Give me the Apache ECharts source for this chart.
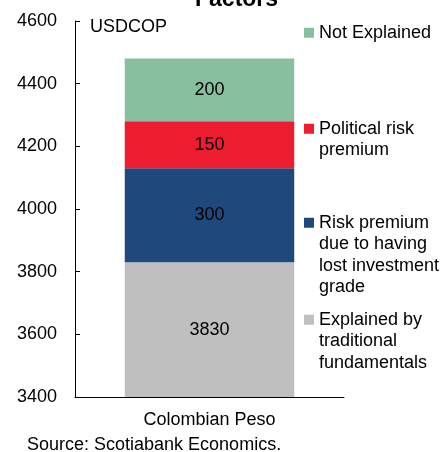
<!DOCTYPE html>
<html>
<head>
<meta charset="utf-8">
<script src="https://cdn.jsdelivr.net/npm/echarts@6/dist/echarts.min.js"></script>
<style>
  html, body { margin: 0; padding: 0; background: #fff; }
  #chart { width: 443px; height: 452px; }
</style>
</head>
<body>
<div id="chart"></div>
<script>
// USDCOP level split into its drivers, stacked from the bottom up
const categories = ['Colombian Peso'];
const explainedFundamentals = [3830];
const riskPremiumInvGrade = [300];
const politicalRiskPremium = [150];
const notExplained = [200];
const yTicks = { min: 3400, max: 4600, step: 200 };

const FONT = '"Liberation Sans", Arial, sans-serif';
const L = 21.5; // legend line height

// Swatch icon as tall as the text block, with the square level with the
// first line; the hairline slivers only fix the path's bounding box.
function swatchPath(lines) {
  const h = lines * L;
  const s = L / 2 - 5;
  return 'path://M0,0L10,0L10,0.001Z' +
    'M0,' + s + 'L10,' + s + 'L10,' + (s + 10) + 'L0,' + (s + 10) + 'Z' +
    'M0,' + h + 'L10,' + h + 'L10,' + (h - 0.001) + 'Z';
}

// one legend box per series so each block sits at its own height
function legendBlock(name, top, lines) {
  return {
    data: [{ name: name, icon: swatchPath(lines) }],
    left: 304,
    top: top,
    padding: 0,
    itemWidth: 10,
    itemHeight: lines * L,
    selectedMode: false,
    textStyle: { fontFamily: FONT, fontSize: 18, color: '#000', lineHeight: L }
  };
}

const labelStyle = {
  show: true, position: 'inside', color: '#000',
  fontFamily: FONT, fontSize: 18
};

function barSeries(name, data, color) {
  return {
    name: name, type: 'bar', stack: 'total', data: data,
    barWidth: '63%',
    itemStyle: { color: color },
    label: labelStyle
  };
}

const chart = echarts.init(document.getElementById('chart'));
chart.setOption({
  animation: false,
  backgroundColor: '#fff',
  textStyle: { fontFamily: FONT },
  grid: { left: 75, right: 99, top: 21, bottom: 55, containLabel: false },
  legend: [
    legendBlock('Not Explained', 22, 1),
    legendBlock('Political risk\npremium', 118, 2),
    legendBlock('Risk premium\ndue to having\nlost investment\ngrade', 212, 4),
    legendBlock('Explained by\ntraditional\nfundamentals', 309, 3)
  ],
  xAxis: {
    type: 'category',
    data: categories,
    axisLine: { lineStyle: { color: '#000', width: 1 } },
    axisTick: { inside: true, length: 5, lineStyle: { color: '#000' } },
    axisLabel: { color: '#000', fontSize: 18, fontFamily: FONT, margin: 14 }
  },
  yAxis: {
    type: 'value',
    min: yTicks.min, max: yTicks.max, interval: yTicks.step,
    splitLine: { show: false },
    axisLine: { show: true, lineStyle: { color: '#000', width: 1 } },
    axisTick: { show: true, inside: true, length: 5, lineStyle: { color: '#000' } },
    axisLabel: {
      color: '#000', fontSize: 18, fontFamily: FONT, margin: 18,
      formatter: function (v) { return String(v); }
    }
  },
  series: [
    barSeries('Explained by\ntraditional\nfundamentals', explainedFundamentals, '#BFBFBF'),
    barSeries('Risk premium\ndue to having\nlost investment\ngrade', riskPremiumInvGrade, '#1F497D'),
    barSeries('Political risk\npremium', politicalRiskPremium, '#EE1C2F'),
    barSeries('Not Explained', notExplained, '#88BF9F')
  ],
  graphic: [
    {
      type: 'text', left: 195, top: -12,
      style: { text: 'Factors', fontFamily: FONT, fontSize: 23, fontWeight: 'bold', fill: '#000' }
    },
    {
      type: 'text', left: 90, top: 18,
      style: { text: 'USDCOP', fontFamily: FONT, fontSize: 18, fill: '#000' }
    },
    {
      type: 'text', left: 27, top: 436,
      style: { text: 'Source: Scotiabank Economics.', fontFamily: FONT, fontSize: 18, fill: '#000' }
    }
  ]
});
</script>
</body>
</html>
